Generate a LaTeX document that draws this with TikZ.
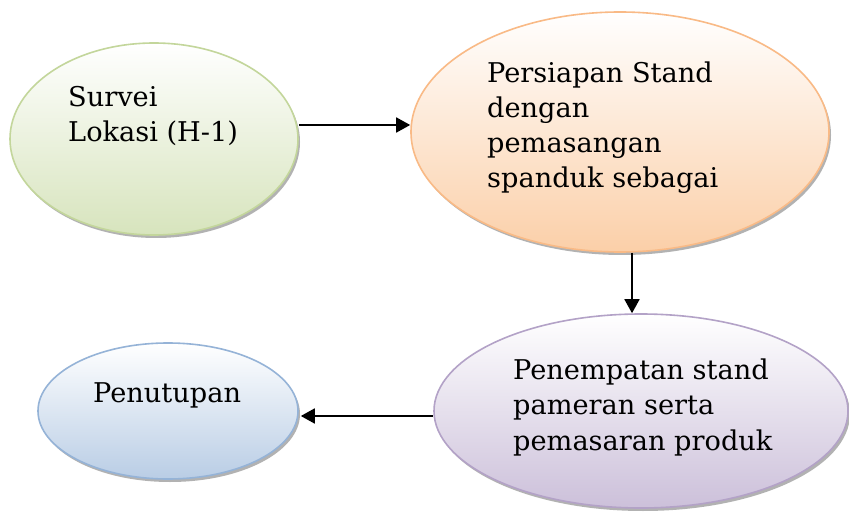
\documentclass[tikz,border=0pt]{standalone}
\usepackage{fontspec}
\setmainfont{DejaVu Serif}
\usetikzlibrary{shapes.geometric,shadows,arrows.meta}
\definecolor{gfill}{HTML}{D7E4BD}
\definecolor{gline}{HTML}{C3D69B}
\definecolor{ofill}{HTML}{FBCFA8}
\definecolor{oline}{HTML}{F9BA86}
\definecolor{pfill}{HTML}{CCC0DA}
\definecolor{pline}{HTML}{B3A2C7}
\definecolor{bfill}{HTML}{B9CDE5}
\definecolor{bline}{HTML}{95B3D7}
\tikzset{
  oval/.style={ellipse, inner sep=0pt, line width=1.6pt,
    drop shadow={shadow xshift=2pt, shadow yshift=-3pt, fill=black!55, opacity=0.55}},
  txt/.style={anchor=base west, inner sep=0pt, align=left, font=\fontsize{27.2}{35.3}\selectfont},
  arr/.style={line width=1.8pt, -{Triangle[length=14pt,width=15pt]}}
}
\begin{document}
\begin{tikzpicture}[x=1pt,y=-1pt]
\useasboundingbox (0,0) rectangle (849,513);
\fill[white] (0,0) rectangle (849,513);
\node[oval, draw=gline, top color=white, bottom color=gfill, minimum width=288pt, minimum height=192pt] (e1) at (154,139) {};
\node[oval, draw=oline, top color=white, bottom color=ofill, minimum width=418pt, minimum height=240pt] (e2) at (620,132) {};
\node[oval, draw=pline, top color=white, bottom color=pfill, minimum width=414pt, minimum height=194pt] (e3) at (641,411) {};
\node[oval, draw=bline, top color=white, bottom color=bfill, minimum width=260pt, minimum height=136pt] (e4) at (168,411) {};
\node[txt] (t1) at (68,142) {Survei\\Lokasi (H-1)};
\node[txt] (t2) at (487,188) {Persiapan Stand\\dengan\\pemasangan\\spanduk sebagai};
\node[txt] (t3) at (513,450) {Penempatan stand\\pameran serta\\pemasaran produk};
\node[txt] (t4) at (93,402) {Penutupan};
\draw[arr] ([yshift=14pt]e1.east) -- ([yshift=7pt]e2.west);
\draw[arr] ([xshift=12pt]e2.south) -- ([xshift=-9pt]e3.north);
\draw[arr] ([yshift=-5pt]e3.west) -- ([yshift=-5pt,xshift=2pt]e4.east);
\end{tikzpicture}
\end{document}
